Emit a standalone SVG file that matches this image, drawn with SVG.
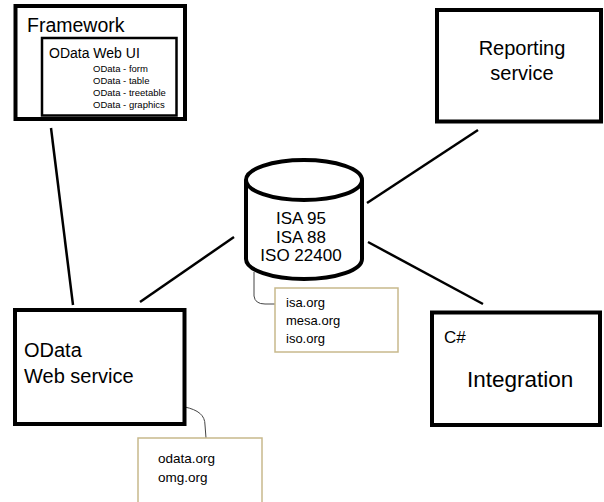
<svg xmlns="http://www.w3.org/2000/svg" width="604" height="502" viewBox="0 0 604 502">
<style>
text{font-family:"Liberation Sans",Arial,sans-serif;fill:#000}
.box{fill:#fff;stroke:#000;stroke-width:4}
.inner{fill:none;stroke:#000;stroke-width:2.5}
.note{fill:#fff;stroke:#c8b98c;stroke-width:1.5}
.conn{stroke:#000;stroke-width:2.5;fill:none}
.thin{stroke:#444;stroke-width:1;fill:none}
.db{font-size:17px;text-anchor:middle}
</style>
<rect width="604" height="502" fill="#fff"/>
<g id="connectors">
<line class="conn" x1="51" y1="128" x2="73" y2="305"/>
<line class="conn" x1="140" y1="302" x2="234" y2="237"/>
<line class="conn" x1="367" y1="203" x2="478" y2="130"/>
<line class="conn" x1="368" y1="242" x2="483" y2="304"/>
<path class="thin" d="M254,272 L254,296 Q255,304 265,304 L275,304"/>
<path class="thin" d="M185,407 C198,410 205,415 205,425 L206,438"/>
</g>
<g id="framework">
<rect class="box" x="15.5" y="6" width="169.5" height="113"/>
<text x="27" y="32" font-size="19.5">Framework</text>
<rect class="inner" x="42" y="38" width="134.5" height="77.5"/>
<text x="49" y="58" font-size="14">OData Web UI</text>
<text x="93" y="72" font-size="9.5">OData - form</text>
<text x="93" y="84" font-size="9.5">OData - table</text>
<text x="93" y="96" font-size="9.5">OData - treetable</text>
<text x="93" y="107.5" font-size="9.5">OData - graphics</text>
</g>
<g id="reporting">
<rect class="box" x="437" y="10" width="164" height="111.5"/>
<text x="522" y="55" font-size="20" text-anchor="middle">Reporting</text>
<text x="522" y="80" font-size="20" text-anchor="middle">service</text>
</g>
<g id="database">
<path d="M246,180 L246,259 A58,20 0 0 0 362,259 L362,180" fill="#fff" stroke="#000" stroke-width="4"/>
<ellipse cx="304" cy="180" rx="58" ry="20" fill="#fff" stroke="#000" stroke-width="4"/>
<text class="db" x="301" y="224">ISA 95</text>
<text class="db" x="301" y="242.5">ISA 88</text>
<text class="db" x="301" y="261">ISO 22400</text>
</g>
<g id="isa-note">
<rect class="note" x="275" y="288" width="123" height="64"/>
<text x="286" y="307" font-size="13">isa.org</text>
<text x="286" y="325" font-size="13">mesa.org</text>
<text x="286" y="343" font-size="13">iso.org</text>
</g>
<g id="odata-ws">
<rect class="box" x="15" y="310" width="169.5" height="114"/>
<text x="24" y="357" font-size="20">OData</text>
<text x="24" y="383" font-size="20">Web service</text>
</g>
<g id="odata-note">
<rect class="note" x="138" y="438" width="124" height="70"/>
<text x="158" y="463" font-size="13.5">odata.org</text>
<text x="158" y="482" font-size="13.5">omg.org</text>
</g>
<g id="integration">
<rect class="box" x="432" y="312.5" width="168" height="112.5"/>
<text x="444" y="343" font-size="17">C#</text>
<text x="467" y="387" font-size="22.5">Integration</text>
</g>
</svg>
